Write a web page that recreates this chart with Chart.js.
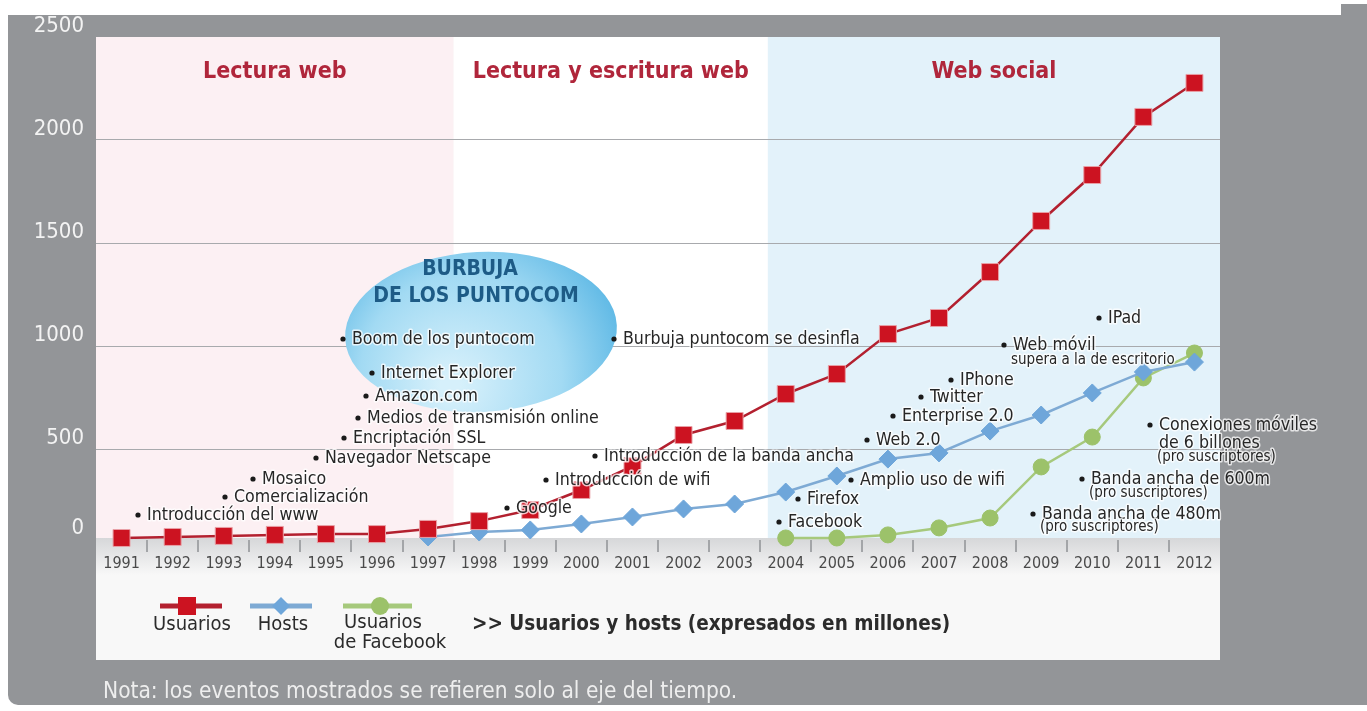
<!DOCTYPE html>
<html>
<head>
<meta charset="utf-8">
<title>Usuarios y hosts</title>
<script src="https://cdn.jsdelivr.net/npm/chart.js@4.4.1/dist/chart.umd.min.js"></script>
<style>
  body { margin: 0; background: #fff; }
  #wrap { position: relative; width: 1367px; height: 711px; overflow: hidden; }
  #bg { position: absolute; left: 8px; top: 15px; width: 1359px; height: 690px; background: #939598; border-bottom-left-radius: 10px; }
  #bg2 { position: absolute; left: 1341px; top: 4px; width: 26px; height: 20px; background: #939598; }
  canvas { position: absolute; left: 0; top: 0; }
</style>
</head>
<body>
<div id="wrap">
  <div id="bg"></div>
  <div id="bg2"></div>
  <canvas id="chart" width="1367" height="711"></canvas>
</div>
<script>
const years = ["1991", "1992", "1993", "1994", "1995", "1996", "1997", "1998", "1999", "2000", "2001",
  "2002", "2003", "2004", "2005", "2006", "2007", "2008", "2009", "2010", "2011", "2012"];
const usuarios = [68, 73, 78, 83, 87, 87, 112, 150, 204, 301, 417, 568, 636, 767, 864, 1058, 1136, 1359, 1607, 1830, 2112, 2277];
const hosts = [null, null, null, null, null, null, 73, 97, 107, 136, 170, 209, 233, 291, 369, 451, 481, 587, 665, 772, 874, 922];
const facebook = [null, null, null, null, null, null, null, null, null, null, null, null, null, 68, 68, 83, 117, 165, 413, 558, 845, 966];
const yTicks = [0, 500, 1000, 1500, 2000, 2500];
const eras = ["Lectura web", "Lectura y escritura web", "Web social"];
const eraEnds = [6.5, 12.65];

// eventos: texto, x e y de la viñeta (px), lineas extra
const eventos = [
  ["Introducción del www", 138, 515],
  ["Comercialización", 225, 497],
  ["Mosaico", 253, 479],
  ["Navegador Netscape", 316, 458],
  ["Encriptación SSL", 344, 438],
  ["Medios de transmisión online", 358, 418],
  ["Amazon.com", 366, 396],
  ["Internet Explorer", 372, 373],
  ["Boom de los puntocom", 343, 339],
  ["Burbuja puntocom se desinfla", 614, 339],
  ["Introducción de la banda ancha", 595, 456],
  ["Introducción de wifi", 546, 480],
  ["Google", 507, 508],
  ["Facebook", 779, 522],
  ["Firefox", 798, 499],
  ["Amplio uso de wifi", 851, 480],
  ["Web 2.0", 867, 440],
  ["Enterprise 2.0", 893, 416],
  ["Twitter", 921, 397],
  ["IPhone", 951, 380],
  ["Web móvil", 1004, 345, [["supera a la de escritorio", 15]]],
  ["IPad", 1099, 318],
  ["Conexiones móviles", 1150, 425, [["de 6 billones", 18, true], ["(pro suscriptores)", 32]]],
  ["Banda ancha de 600m", 1082, 479, [["(pro suscriptores)", 14]]],
  ["Banda ancha de 480m", 1033, 514, [["(pro suscriptores)", 13]]]
];

const FONT = '"DejaVu Sans Condensed", "Liberation Sans Narrow", Roboto, sans-serif';
const RED = "#cc1321";
const RED_LINE = "#b3202f";
const BLUE = "#6ea6da";
const BLUE_LINE = "#7eaad4";
const GREEN = "#9cc26a";
const GREEN_LINE = "#a6c97c";

const decor = {
  id: "decor",
  beforeDraw(chart) {
    const ctx = chart.ctx;
    const x = chart.scales.x;
    const area = chart.chartArea;
    const b1 = x.getPixelForValue(eraEnds[0]);
    const b2 = x.getPixelForValue(eraEnds[1]);
    ctx.save();
    ctx.fillStyle = "#f8f8f8";
    ctx.fillRect(area.left, area.top, area.right - area.left, 660 - area.top);
    ctx.fillStyle = "#fcf0f3";
    ctx.fillRect(area.left, area.top, b1 - area.left, 538 - area.top);
    ctx.fillStyle = "#ffffff";
    ctx.fillRect(b1, area.top, b2 - b1, 538 - area.top);
    ctx.fillStyle = "#e3f2fa";
    ctx.fillRect(b2, area.top, area.right - b2, 538 - area.top);
    const g = ctx.createLinearGradient(0, 538, 0, 575);
    g.addColorStop(0, "#d6d7d9");
    g.addColorStop(1, "#f8f8f8");
    ctx.fillStyle = g;
    ctx.fillRect(area.left, 538, area.right - area.left, 37);
    ctx.strokeStyle = "#a3a5a8";
    ctx.lineWidth = 2;
    for (let i = 0; i < years.length - 1; i++) {
      const px = Math.round(x.getPixelForValue(i + 0.5));
      ctx.beginPath();
      ctx.moveTo(px, 540);
      ctx.lineTo(px, 552);
      ctx.stroke();
    }
    // era titles
    const edges = [area.left, b1, b2, area.right];
    ctx.fillStyle = "#b0263b";
    ctx.font = "bold 23px " + FONT;
    ctx.textAlign = "center";
    ctx.textBaseline = "middle";
    eras.forEach((t, i) => ctx.fillText(t, (edges[i] + edges[i + 1]) / 2, 72));
    ctx.restore();
  },
  beforeDatasetsDraw(chart) {
    const ctx = chart.ctx;
    ctx.save();
    const g = ctx.createRadialGradient(450, 385, 10, 470, 370, 175);
    g.addColorStop(0, "#d6f0fb");
    g.addColorStop(0.55, "#a2daf3");
    g.addColorStop(1, "#4fb1e2");
    ctx.fillStyle = g;
    ctx.beginPath();
    ctx.ellipse(481, 332, 136, 80, -0.05, 0, Math.PI * 2);
    ctx.fill();
    ctx.fillStyle = "#1d5b86";
    ctx.font = "bold 21px " + FONT;
    ctx.textAlign = "center";
    ctx.textBaseline = "middle";
    ctx.fillText("BURBUJA", 470, 270);
    ctx.fillText("DE LOS PUNTOCOM", 476, 297);
    ctx.restore();
  },
  afterDatasetsDraw(chart) {
    const ctx = chart.ctx;
    ctx.save();
    ctx.textBaseline = "middle";
    ctx.textAlign = "left";
    ctx.lineJoin = "round";
    const label = (t, tx, ty, size) => {
      ctx.font = size + "px " + FONT;
      ctx.strokeStyle = "rgba(255,255,255,0.75)";
      ctx.lineWidth = 3;
      ctx.strokeText(t, tx, ty);
      ctx.fillStyle = "#262626";
      ctx.fillText(t, tx, ty);
    };
    eventos.forEach(ev => {
      const [t, bx, by, extra] = ev;
      ctx.fillStyle = "#1a1a1a";
      ctx.beginPath();
      ctx.arc(bx, by, 2.6, 0, Math.PI * 2);
      ctx.fill();
      label(t, bx + 9, by, 17.6);
      (extra || []).forEach(([s, dy, big]) => label(s, bx + (big ? 9 : 7), by + dy, big ? 17.6 : 15));
    });
    ctx.restore();
  },
  afterDraw(chart) {
    const ctx = chart.ctx;
    ctx.save();
    const ly = 606;
    // legend
    ctx.lineWidth = 5;
    ctx.strokeStyle = RED_LINE;
    ctx.beginPath(); ctx.moveTo(160, ly); ctx.lineTo(222, ly); ctx.stroke();
    ctx.fillStyle = RED;
    ctx.fillRect(178, ly - 9, 18, 18);
    ctx.strokeStyle = BLUE_LINE;
    ctx.beginPath(); ctx.moveTo(250, ly); ctx.lineTo(312, ly); ctx.stroke();
    ctx.fillStyle = BLUE;
    ctx.beginPath();
    ctx.moveTo(281, ly - 9); ctx.lineTo(290, ly); ctx.lineTo(281, ly + 9); ctx.lineTo(272, ly);
    ctx.closePath(); ctx.fill();
    ctx.strokeStyle = GREEN_LINE;
    ctx.beginPath(); ctx.moveTo(343, ly); ctx.lineTo(412, ly); ctx.stroke();
    ctx.fillStyle = GREEN;
    ctx.beginPath(); ctx.arc(380, ly, 9, 0, Math.PI * 2); ctx.fill();

    ctx.fillStyle = "#2b2b2b";
    ctx.font = "20px " + FONT;
    ctx.textAlign = "center";
    ctx.textBaseline = "middle";
    ctx.fillText("Usuarios", 192, 625);
    ctx.fillText("Hosts", 283, 625);
    ctx.fillText("Usuarios", 383, 623);
    ctx.fillText("de Facebook", 390, 643);
    ctx.textAlign = "left";
    ctx.font = "bold 20.5px " + FONT;
    ctx.fillText(">> Usuarios y hosts (expresados en millones)", 472, 625);

    ctx.fillStyle = "#eeeeee";
    ctx.font = "22.5px " + FONT;
    ctx.fillText("Nota: los eventos mostrados se refieren solo al eje del tiempo.", 103, 692);
    ctx.restore();
  }
};

new Chart(document.getElementById("chart"), {
  type: "line",
  data: {
    labels: years,
    datasets: [
      {
        label: "Usuarios",
        data: usuarios,
        borderColor: RED_LINE,
        borderWidth: 2.5,
        pointStyle: "rect",
        pointRadius: 12,
        pointBackgroundColor: RED,
        pointBorderColor: "#e8a0a6",
        pointBorderWidth: 1,
        tension: 0
      },
      {
        label: "Hosts",
        data: hosts,
        borderColor: BLUE_LINE,
        borderWidth: 2.5,
        pointStyle: "rectRot",
        pointRadius: 9,
        pointBackgroundColor: BLUE,
        pointBorderColor: BLUE,
        pointBorderWidth: 1,
        tension: 0
      },
      {
        label: "Usuarios de Facebook",
        data: facebook,
        borderColor: GREEN_LINE,
        borderWidth: 2.5,
        pointStyle: "circle",
        pointRadius: 8,
        pointBackgroundColor: GREEN,
        pointBorderColor: GREEN,
        pointBorderWidth: 1,
        tension: 0
      }
    ]
  },
  options: {
    responsive: false,
    animation: false,
    devicePixelRatio: 1,
    layout: {
      padding: { left: 0, top: 37, right: 147, bottom: 129 }
    },
    scales: {
      x: {
        offset: true,
        grid: { display: false, drawTicks: false },
        border: { display: false },
        ticks: {
          color: "#4a4a4a",
          padding: 2,
          maxRotation: 0,
          autoSkip: false,
          font: { family: FONT, size: 16 }
        },
        afterFit: scale => { scale.height = 30; }
      },
      y: {
        min: 0,
        max: 2500,
        afterBuildTicks: scale => { scale.ticks = yTicks.map(v => ({ value: v })); },
        grid: {
          color: ctx => (ctx.tick && (ctx.tick.value === 0 || ctx.tick.value === 2500)) ? "rgba(0,0,0,0)" : "#a8aaad",
          lineWidth: 1,
          drawTicks: false
        },
        border: { display: false },
        ticks: {
          color: "#f3f3f3",
          padding: 12,
          labelOffset: -11,
          font: { family: FONT, size: 22 },
          // the "0" label sits a little higher in the original
          callback: v => v === 0 ? ["0", ""] : String(v)
        },
        afterFit: scale => { scale.width = 96; }
      }
    },
    plugins: {
      legend: { display: false },
      tooltip: { enabled: false }
    }
  },
  plugins: [decor]
});
</script>
</body>
</html>
